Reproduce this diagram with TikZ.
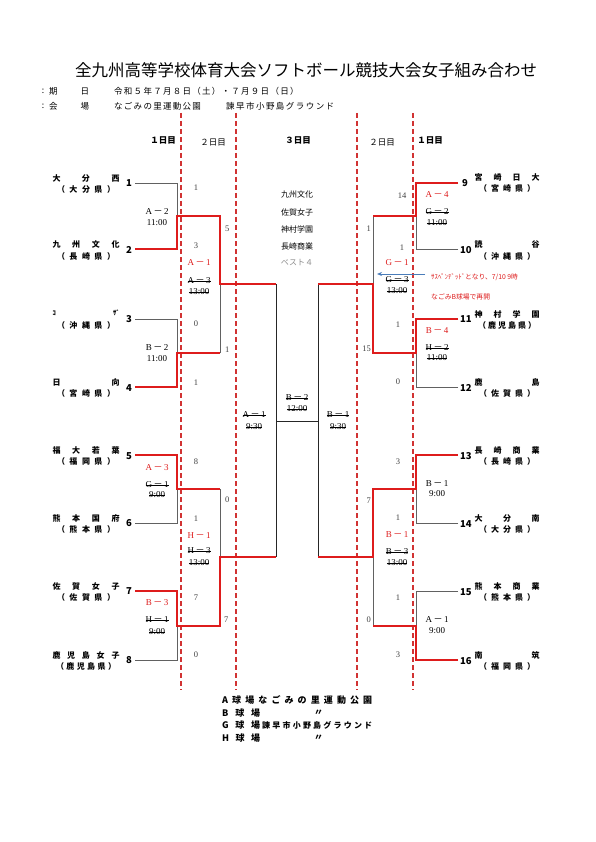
\documentclass[tikz,border=0pt]{standalone}
\usepackage{fontspec}
\setmainfont{Liberation Serif}
\newfontfamily\jp{Noto Sans CJK JP}
\usetikzlibrary{arrows.meta}

\newlength{\du}
\setlength{\du}{1\unitlength}

\definecolor{winred}{rgb}{0.870000, 0.110000, 0.110000}
\definecolor{dashred}{rgb}{0.820000, 0.200000, 0.200000}
\definecolor{lossgray}{rgb}{0.380000, 0.380000, 0.380000}
\definecolor{noteblue}{rgb}{0.290000, 0.490000, 0.730000}

\newsavebox{\strikebox}
\newcommand{\struck}[1]{\sbox{\strikebox}{#1}\rlap{\rule[0.3em]{\wd\strikebox}{0.5pt}}\usebox{\strikebox}}
\newcommand{\ga}[2]{#1\,{\jp －}\,#2}

\tikzset{
  winline/.style={draw=winred, line width=2.9\du},
  loseline/.style={draw=lossgray, line width=0.9\du},
  finalline/.style={draw=black!85, line width=0.9\du},
  dayline/.style={draw=dashred, line width=1.1\du, dash pattern=on 5\du off 3\du},
  titletext/.style={font=\jp\fontsize{16.5}{17}\selectfont, inner sep=0pt},
  headtext/.style={font=\jp\fontsize{8.5}{9}\selectfont, inner sep=0pt},
  daytext/.style={font=\jp\bfseries\fontsize{8.5}{9}\selectfont, inner sep=0pt},
  teamname/.style={font=\jp\bfseries\fontsize{8}{8}\selectfont, inner sep=0pt},
  seedno/.style={font=\jp\bfseries\fontsize{9.5}{9.5}\selectfont, inner sep=0pt},
  score/.style={font=\fontsize{8.5}{8.5}\selectfont, text=black!75, inner sep=0pt},
  game/.style={font=\fontsize{9}{9}\selectfont, inner sep=0pt},
  redgame/.style={game, text=winred},
  best/.style={font=\jp\fontsize{8}{8}\selectfont, inner sep=0pt},
  note/.style={font=\jp\fontsize{6.8}{7}\selectfont, text=winred, inner sep=0pt, anchor=west},
  foot/.style={font=\jp\bfseries\fontsize{9}{9}\selectfont, inner sep=0pt, anchor=west}
}

\begin{document}
\begin{tikzpicture}
\pgftransformxscale{1.000000}
\pgftransformyscale{-1.000000}
\fill[white] (0\du,0\du) rectangle (595\du,842\du);
\useasboundingbox (0\du,0\du) rectangle (595\du,842\du);

% heading
\node[titletext] (title) at (306\du,70\du) {全九州高等学校体育大会ソフトボール競技大会女子組み合わせ};
\node[headtext] (c1key) at (43\du,91\du) {:};
\node[headtext, anchor=west] (datekey) at (49\du,91\du) {\makebox[40\du][s]{期 日}};
\node[headtext, anchor=west] (date) at (114\du,91\du) {\makebox[183\du][s]{令 和 ５ 年 ７ 月 ８ 日 （ 土 ） ・ ７ 月 ９ 日 （ 日 ）}};
\node[headtext] (c2key) at (43\du,106\du) {:};
\node[headtext, anchor=west] (sitekey) at (49\du,106\du) {\makebox[40\du][s]{会 場}};
\node[headtext, anchor=west] (site1) at (114\du,106\du) {\makebox[84\du][s]{な ご み の 里 運 動 公 園}};
\node[headtext, anchor=west] (site2) at (226\du,106\du) {\makebox[108\du][s]{諫 早 市 小 野 島 グ ラ ウ ン ド}};

% day columns
\draw[dayline] (181\du,113\du) -- (181\du,690\du);
\draw[dayline] (236\du,113\du) -- (236\du,690\du);
\draw[dayline] (357\du,113\du) -- (357\du,690\du);
\draw[dayline] (413\du,113\du) -- (413\du,690\du);
\node[daytext] (day1l) at (163\du,140\du) {１日目};
\node[headtext] (day2l) at (213\du,143\du) {２日目};
\node[daytext] (day3) at (298\du,140\du) {３日目};
\node[headtext] (day2r) at (382\du,143\du) {２日目};
\node[daytext] (day1r) at (430\du,140\du) {１日目};

% left teams
\node[teamname] (n1) at (86\du,178\du) {\makebox[67\du][s]{大 分 西}};
\node[teamname] (p1) at (86\du,189\du) {\makebox[58\du][s]{（ 大 分 県 ）}};
\node[seedno, anchor=east] (k1) at (132\du,183\du) {1};
\coordinate (e1) at (135\du,183\du);
\node[teamname] (n2) at (86\du,244\du) {\makebox[67\du][s]{九 州 文 化}};
\node[teamname] (p2) at (86\du,256\du) {\makebox[58\du][s]{（ 長 崎 県 ）}};
\node[seedno, anchor=east] (k2) at (132\du,250\du) {2};
\coordinate (e2) at (135\du,249\du);
\node[teamname] (n3) at (86\du,313\du) {\makebox[67\du][s]{\fontsize{6.5}{6.5}\selectfont ｺ ｻﾞ}};
\node[teamname] (p3) at (86\du,325\du) {\makebox[58\du][s]{（ 沖 縄 県 ）}};
\node[seedno, anchor=east] (k3) at (132\du,319\du) {3};
\coordinate (e3) at (135\du,319\du);
\node[teamname] (n4) at (86\du,382\du) {\makebox[67\du][s]{日 向}};
\node[teamname] (p4) at (86\du,393\du) {\makebox[58\du][s]{（ 宮 崎 県 ）}};
\node[seedno, anchor=east] (k4) at (132\du,388\du) {4};
\coordinate (e4) at (135\du,387\du);
\node[teamname] (n5) at (86\du,450\du) {\makebox[67\du][s]{福 大 若 葉}};
\node[teamname] (p5) at (86\du,461\du) {\makebox[58\du][s]{（ 福 岡 県 ）}};
\node[seedno, anchor=east] (k5) at (132\du,456\du) {5};
\coordinate (e5) at (135\du,455\du);
\node[teamname] (n6) at (86\du,518\du) {\makebox[67\du][s]{熊 本 国 府}};
\node[teamname] (p6) at (86\du,529\du) {\makebox[58\du][s]{（ 熊 本 県 ）}};
\node[seedno, anchor=east] (k6) at (132\du,523\du) {6};
\coordinate (e6) at (135\du,523\du);
\node[teamname] (n7) at (86\du,586\du) {\makebox[67\du][s]{佐 賀 女 子}};
\node[teamname] (p7) at (86\du,597\du) {\makebox[58\du][s]{（ 佐 賀 県 ）}};
\node[seedno, anchor=east] (k7) at (132\du,591\du) {7};
\coordinate (e7) at (135\du,591\du);
\node[teamname] (n8) at (86\du,655\du) {\makebox[67\du][s]{鹿 児 島 女 子}};
\node[teamname] (p8) at (86\du,666\du) {\makebox[60\du][s]{（ 鹿 児 島 県 ）}};
\node[seedno, anchor=east] (k8) at (132\du,660\du) {8};
\coordinate (e8) at (135\du,660\du);

% right teams
\node[teamname] (n9) at (507\du,177\du) {\makebox[65\du][s]{宮 崎 日 大}};
\node[teamname] (p9) at (507\du,188\du) {\makebox[56\du][s]{（ 宮 崎 県 ）}};
\node[seedno, anchor=west] (k9) at (462\du,183\du) {9};
\coordinate (e9) at (458\du,183\du);
\node[teamname] (n10) at (507\du,244\du) {\makebox[65\du][s]{読 谷}};
\node[teamname] (p10) at (507\du,256\du) {\makebox[56\du][s]{（ 沖 縄 県 ）}};
\node[seedno, anchor=west] (k10) at (460\du,250\du) {10};
\coordinate (e10) at (458\du,249\du);
\node[teamname] (n11) at (507\du,314\du) {\makebox[65\du][s]{神 村 学 園}};
\node[teamname] (p11) at (507\du,325\du) {\makebox[58\du][s]{（ 鹿 児 島 県 ）}};
\node[seedno, anchor=west] (k11) at (460\du,319\du) {11};
\coordinate (e11) at (458\du,319\du);
\node[teamname] (n12) at (507\du,382\du) {\makebox[65\du][s]{鹿 島}};
\node[teamname] (p12) at (507\du,393\du) {\makebox[56\du][s]{（ 佐 賀 県 ）}};
\node[seedno, anchor=west] (k12) at (460\du,388\du) {12};
\coordinate (e12) at (458\du,387\du);
\node[teamname] (n13) at (507\du,450\du) {\makebox[65\du][s]{長 崎 商 業}};
\node[teamname] (p13) at (507\du,461\du) {\makebox[56\du][s]{（ 長 崎 県 ）}};
\node[seedno, anchor=west] (k13) at (460\du,456\du) {13};
\coordinate (e13) at (458\du,455\du);
\node[teamname] (n14) at (507\du,518\du) {\makebox[65\du][s]{大 分 南}};
\node[teamname] (p14) at (507\du,529\du) {\makebox[56\du][s]{（ 大 分 県 ）}};
\node[seedno, anchor=west] (k14) at (460\du,524\du) {14};
\coordinate (e14) at (458\du,523\du);
\node[teamname] (n15) at (507\du,586\du) {\makebox[65\du][s]{熊 本 商 業}};
\node[teamname] (p15) at (507\du,597\du) {\makebox[56\du][s]{（ 熊 本 県 ）}};
\node[seedno, anchor=west] (k15) at (460\du,592\du) {15};
\coordinate (e15) at (458\du,591\du);
\node[teamname] (n16) at (507\du,655\du) {\makebox[65\du][s]{南 筑}};
\node[teamname] (p16) at (507\du,666\du) {\makebox[56\du][s]{（ 福 岡 県 ）}};
\node[seedno, anchor=west] (k16) at (460\du,661\du) {16};
\coordinate (e16) at (458\du,660\du);

% match points
\coordinate (a1) at (177\du,216\du);
\coordinate (a2) at (177\du,353\du);
\coordinate (a3) at (177\du,489\du);
\coordinate (a4) at (177\du,626\du);
\coordinate (b1) at (220\du,284\du);
\coordinate (b2) at (220\du,557\du);
\coordinate (c1) at (276\du,421\du);
\coordinate (a5) at (416\du,216\du);
\coordinate (a6) at (416\du,353\du);
\coordinate (a7) at (416\du,489\du);
\coordinate (a8) at (416\du,626\du);
\coordinate (b3) at (373\du,284\du);
\coordinate (b4) at (373\du,557\du);
\coordinate (c2) at (318\du,421\du);

% bracket lines
\draw[loseline] (e1) -| (a1);
\draw[loseline] (e3) -| (a2);
\draw[loseline] (e6) -| (a3);
\draw[loseline] (e8) -| (a4);
\draw[loseline] (a2 -| b1) -- (b1);
\draw[loseline] (a3 -| b2) -- (b2);
\draw[loseline] (e10) -| (a5);
\draw[loseline] (e12) -| (a6);
\draw[loseline] (e14) -| (a7);
\draw[loseline] (e15) -| (a8);
\draw[loseline] (a5 -| b3) -- (b3);
\draw[loseline] (a8 -| b4) -- (b4);
\draw[finalline] (c1 |- b1) -- (c1 |- b2);
\draw[finalline] (c2 |- b3) -- (c2 |- b4);
\draw[finalline] (c1) -- (c2);
\draw[winline] (e2) -| (a1) -| (b1) -- (c1 |- b1);
\draw[winline] (e4) -| (a2) -- (a2 -| b1);
\draw[winline] (e5) -| (a3) -- (a3 -| b2);
\draw[winline] (e7) -| (a4) -| (b2) -- (c1 |- b2);
\draw[winline] (e9) -| (a5) -- (a5 -| b3);
\draw[winline] (e11) -| (a6) -| (b3) -- (c2 |- b3);
\draw[winline] (e13) -| (a7) -| (b4) -- (c2 |- b4);
\draw[winline] (e16) -| (a8) -- (a8 -| b4);

% scores
\node[score] (s1) at (196\du,188\du) {1};
\node[score] (s2) at (196\du,246\du) {3};
\node[score] (s3) at (196\du,324\du) {0};
\node[score] (s4) at (196\du,383\du) {1};
\node[score] (s5) at (196\du,462\du) {8};
\node[score] (s6) at (196\du,519\du) {1};
\node[score] (s7) at (196\du,598\du) {7};
\node[score] (s8) at (196\du,655\du) {0};
\node[score, anchor=west] (q1) at (225\du,229\du) {5};
\node[score, anchor=west] (q2) at (225\du,350\du) {1};
\node[score, anchor=west] (q3) at (225\du,500\du) {0};
\node[score, anchor=west] (q4) at (224\du,620\du) {7};
\node[score] (s9) at (402\du,196\du) {14};
\node[score] (s10) at (402\du,248\du) {1};
\node[score] (s11) at (398\du,325\du) {1};
\node[score] (s12) at (398\du,382\du) {0};
\node[score] (s13) at (398\du,462\du) {3};
\node[score] (s14) at (398\du,518\du) {1};
\node[score] (s15) at (398\du,598\du) {1};
\node[score] (s16) at (398\du,655\du) {3};
\node[score, anchor=east] (q5) at (371\du,229\du) {1};
\node[score, anchor=east] (q6) at (371\du,349\du) {15};
\node[score, anchor=east] (q7) at (371\du,501\du) {7};
\node[score, anchor=east] (q8) at (371\du,620\du) {0};

% games, left
\node[game] (g1) at (157\du,212\du) {\ga{A}{2}};
\node[game] (t1) at (157\du,223\du) {11:00};
\node[game] (g2) at (157\du,348\du) {\ga{B}{2}};
\node[game] (t2) at (157\du,359\du) {11:00};
\node[redgame] (g3) at (157\du,468\du) {\ga{A}{3}};
\node[game] (g3x) at (157\du,485\du) {\struck{\ga{G}{1}}};
\node[game] (t3x) at (157\du,495\du) {\struck{9:00}};
\node[redgame] (g4) at (157\du,603\du) {\ga{B}{3}};
\node[game] (g4x) at (157\du,620\du) {\struck{\ga{H}{1}}};
\node[game] (t4x) at (157\du,632\du) {\struck{9:00}};
\node[redgame] (g5) at (199\du,263\du) {\ga{A}{1}};
\node[game] (g5x) at (199\du,281\du) {\struck{\ga{A}{3}}};
\node[game] (t5x) at (199\du,292\du) {\struck{13:00}};
\node[redgame] (g6) at (199\du,536\du) {\ga{H}{1}};
\node[game] (g6x) at (199\du,551\du) {\struck{\ga{H}{3}}};
\node[game] (t6x) at (199\du,563\du) {\struck{13:00}};
\node[game] (g7x) at (254\du,415\du) {\struck{\ga{A}{1}}};
\node[game] (t7x) at (254\du,427\du) {\struck{9:30}};
\node[game] (g8x) at (297\du,398\du) {\struck{\ga{B}{2}}};
\node[game] (t8x) at (297\du,409\du) {\struck{12:00}};
\node[game] (g9x) at (338\du,415\du) {\struck{\ga{B}{1}}};
\node[game] (t9x) at (338\du,427\du) {\struck{9:30}};

% games, right
\node[redgame] (g10) at (437\du,195\du) {\ga{A}{4}};
\node[game] (g10x) at (437\du,212\du) {\struck{\ga{G}{2}}};
\node[game] (t10x) at (437\du,223\du) {\struck{11:00}};
\node[redgame] (g11) at (437\du,331\du) {\ga{B}{4}};
\node[game] (g11x) at (437\du,348\du) {\struck{\ga{H}{2}}};
\node[game] (t11x) at (437\du,358\du) {\struck{11:00}};
\node[game] (g12) at (437\du,484\du) {\ga{B}{1}};
\node[game] (t12) at (437\du,494\du) {9:00};
\node[game] (g13) at (437\du,620\du) {\ga{A}{1}};
\node[game] (t13) at (437\du,631\du) {9:00};
\node[redgame] (g14) at (397\du,263\du) {\ga{G}{1}};
\node[game] (g14x) at (397\du,280\du) {\struck{\ga{G}{3}}};
\node[game] (t14x) at (397\du,291\du) {\struck{13:00}};
\node[redgame] (g15) at (397\du,535\du) {\ga{B}{1}};
\node[game] (g15x) at (397\du,552\du) {\struck{\ga{B}{3}}};
\node[game] (t15x) at (397\du,563\du) {\struck{13:00}};

% suspended game note
\coordinate (arr) at (425\du,274\du);
\coordinate (arrtip) at (377\du,274\du);
\draw[noteblue, line width=0.8\du, -{Stealth[length=5pt, width=4pt]}] (arr) -- (arrtip);
\node[note] (note1) at (431\du,277\du) {ｻｽﾍﾟﾝﾃﾞｯﾄﾞとなり、7/10 9時};
\node[note] (note2) at (431\du,297\du) {なごみB球場で再開};

% best four
\node[best] (bf1) at (297\du,194\du) {九州文化};
\node[best] (bf2) at (297\du,212\du) {佐賀女子};
\node[best] (bf3) at (297\du,229\du) {神村学園};
\node[best] (bf4) at (297\du,246\du) {長崎商業};
\node[best, text=black!45] (bf5) at (297\du,263\du) {ベスト４};

% grounds
\node[foot] (fa) at (222\du,700\du) {\makebox[150\du][s]{A 球 場 な ご み の 里 運 動 公 園}};
\node[foot] (fb) at (222\du,713\du) {\makebox[38\du][s]{B 球 場}};
\node[foot] (fbs) at (314\du,713\du) {〃};
\node[foot] (fg) at (222\du,725\du) {\makebox[38\du][s]{G 球 場}};
\node[foot, font=\jp\bfseries\fontsize{8}{8}\selectfont] (fgs) at (262\du,725\du) {\makebox[110\du][s]{諫 早 市 小 野 島 グ ラ ウ ン ド}};
\node[foot] (fh) at (222\du,738\du) {\makebox[38\du][s]{H 球 場}};
\node[foot] (fhs) at (314\du,738\du) {〃};
\end{tikzpicture}
\end{document}
